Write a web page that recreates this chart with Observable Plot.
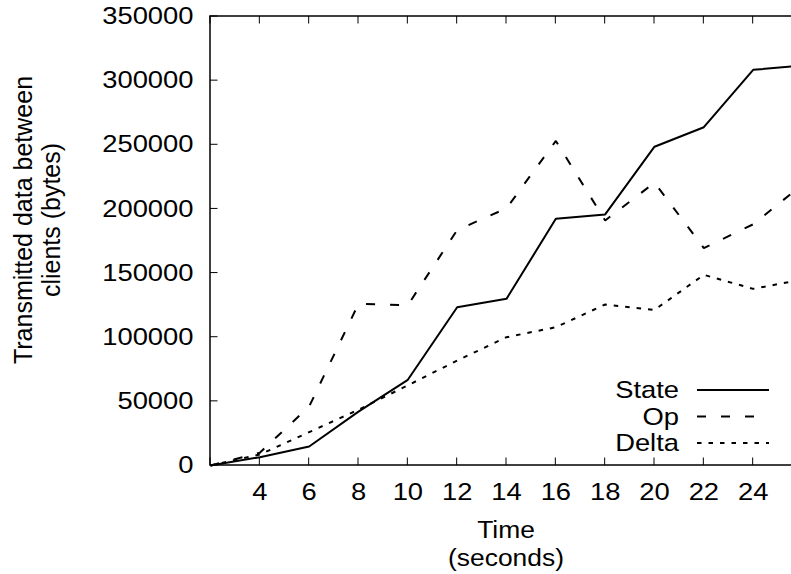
<!DOCTYPE html>
<html><head><meta charset="utf-8">
<script src="https://cdn.jsdelivr.net/npm/d3@7"></script>
<script src="https://cdn.jsdelivr.net/npm/@observablehq/plot@0.6"></script>
<style>
html,body{margin:0;padding:0;background:#fff;overflow:hidden}
</style></head><body><div id="chart"></div>
<script>
// ---- data ----
const times = [2, 4, 6, 8, 10, 12, 14, 16, 18, 20, 22, 24, 26];
const stateBytes = [0, 6500, 14800, 42000, 66800, 123400, 129900, 192300, 195700, 248500, 263700, 308400, 311800];
const opBytes = [0, 10000, 46000, 126000, 125000, 183500, 200500, 253000, 191000, 220500, 169500, 188000, 219000];
const deltaBytes = [0, 8500, 26000, 43500, 62500, 81800, 100000, 107800, 125500, 121300, 148600, 137700, 145000];
const seriesNames = ["State", "Op", "Delta"];
const xTickValues = [4, 6, 8, 10, 12, 14, 16, 18, 20, 22, 24];
const yTickValues = [0, 50000, 100000, 150000, 200000, 250000, 300000, 350000];
const xTitleLines = ["Time", "(seconds)"];
const yTitleLines = ["Transmitted data between", "clients (bytes)"];

// ---- styling / layout ----
const FONT = '"Liberation Sans", Arial, Helvetica, sans-serif';
const W = 791, H = 574, ML = 210, MT = 16, MB = 109;
const WIDEN = 1.14;
const dashFor = {State: null, Op: "9,15", Delta: "4.5,7"};
const valuesFor = {State: stateBytes, Op: opBytes, Delta: deltaBytes};

const lineMarks = seriesNames.map(name => Plot.line(times, {
  x: d => d,
  y: (d, i) => valuesFor[name][i],
  stroke: "black",
  strokeWidth: 2,
  strokeDasharray: dashFor[name],
  strokeLinecap: "butt",
  strokeLinejoin: "miter"
}));

const plot = Plot.plot({
  width: W, height: H,
  marginLeft: ML, marginTop: MT, marginBottom: MB, marginRight: 0,
  style: {fontFamily: FONT, fontSize: "24px", color: "black", background: "white", overflow: "hidden"},
  x: {domain: [2, 26], range: [210, 802]},
  y: {domain: [0, 350000]},
  marks: [
    ...lineMarks,
    Plot.axisY(yTickValues, {anchor: "left", tickSize: 0, tickPadding: 17, tickFormat: d => String(d), label: null, fill: "black"}),
    Plot.axisX(xTickValues, {anchor: "bottom", tickSize: 0, tickPadding: 17, tickFormat: d => String(d), label: null, fill: "black"})
  ]
});
document.getElementById("chart").appendChild(plot);

const svg = d3.select(plot);
const sx = plot.scale("x"), sy = plot.scale("y");
const xL = sx.apply(2), yB = sy.apply(0), yT = sy.apply(350000);

// widen horizontal texts produced by Plot (the reference's type is horizontally stretched)
function widen(el, k) {
  const x = parseFloat(el.getAttribute("x")) || 0;
  let t = el.getAttribute("transform") || "";
  if (x) { el.removeAttribute("x"); t += ` translate(${x},0)`; }
  el.setAttribute("transform", `${t} scale(${k},1)`);
}
svg.selectAll("text").each(function() { widen(this, WIDEN); });

const g = svg.append("g").attr("fill", "none").attr("stroke", "black");
// border (top, left, bottom)
g.append("path").attr("stroke-width", 1.5)
  .attr("d", `M${W + 5},${yT}H${xL}V${yB}H${W + 5}`);
// inward ticks
const TL = 7.5;
const allX = [2, ...xTickValues];
allX.forEach(v => {
  const px = sx.apply(v);
  g.append("path").attr("stroke-width", 1).attr("d", `M${px},${yB}v${-TL}M${px},${yT}v${TL}`);
});
yTickValues.forEach(v => {
  const py = sy.apply(v);
  g.append("path").attr("stroke-width", 1).attr("d", `M${xL},${py}h${TL}`);
});

// legend
const lg = svg.append("g").attr("font-family", FONT).attr("font-size", 24);
const legendRows = [390, 416.5, 443];
seriesNames.forEach((name, i) => {
  const y = legendRows[i];
  lg.append("text").attr("text-anchor", "end").attr("y", "0.35em")
    .attr("transform", `translate(679,${y}) scale(${WIDEN},1)`).text(name);
  lg.append("path").attr("d", `M697,${y}H769`).attr("stroke", "black").attr("stroke-width", 2)
    .attr("fill", "none").attr("stroke-dasharray", dashFor[name]).attr("stroke-linecap", "butt");
});

// x title
const xc = (sx.range[0] + sx.range[1]) / 2;
xTitleLines.forEach((s, i) => {
  lg.append("text").attr("text-anchor", "middle")
    .attr("transform", `translate(${xc},${538 + i * 28}) scale(1.1,1)`).text(s);
});
// y title (rotated)
yTitleLines.forEach((s, i) => {
  lg.append("text").attr("text-anchor", "middle").attr("font-size", 25)
    .attr("transform", `translate(${32 + i * 28},220) rotate(-90)`).text(s);
});
</script></body></html>
